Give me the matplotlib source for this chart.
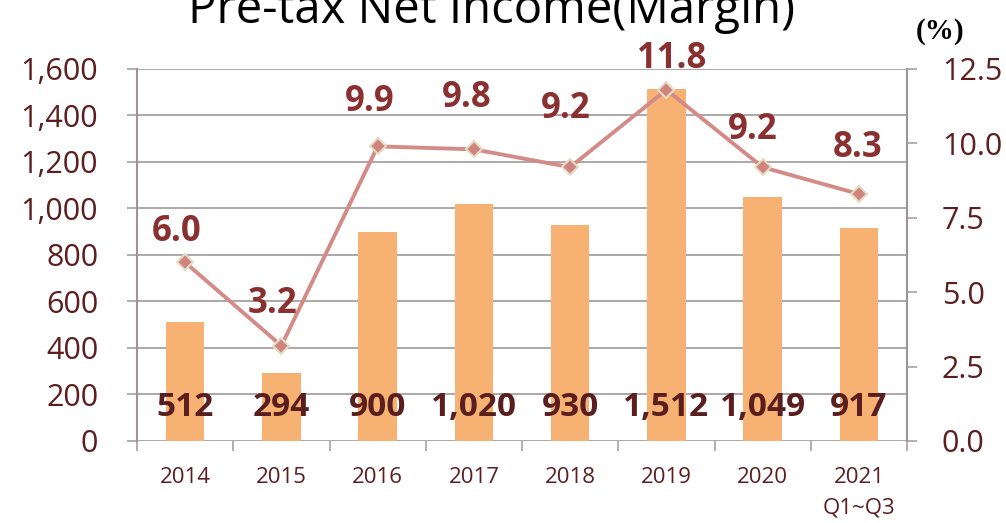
import matplotlib.pyplot as plt
import numpy as np

years = ['2014', '2015', '2016', '2017', '2018', '2019', '2020', '2021\nQ1~Q3']
income = [512, 294, 900, 1020, 930, 1512, 1049, 917]
margin = [6.0, 3.2, 9.9, 9.8, 9.2, 11.8, 9.2, 8.3]

# label offsets (points) for the margin labels, as placed in the original
lab_dx = [-6, -6, -6, -5, -3, 4, -7, -1]
lab_dy = [22, 30, 32, 37, 42, 22, 27, 33]

plt.rcParams['font.family'] = ['Open Sans', 'DejaVu Sans']
tick_col = '#5C1E1E'
grid_col = '#A8A0A0'

fig = plt.figure(figsize=(10.06, 5.23), dpi=100)
ax = fig.add_axes([0.1362, 0.1568, 0.7654, 0.7113])
x = np.arange(len(years))

ax.bar(x, income, width=0.4, color='#F7B172', zorder=2)
ax.set_xlim(-0.5, len(years) - 0.5)
ax.set_ylim(0, 1600)
ax.set_yticks(np.arange(0, 1601, 200))
ax.set_yticklabels([f'{v:,}' for v in range(0, 1601, 200)])
ax.grid(axis='y', color=grid_col, linewidth=1.3, zorder=0)
ax.set_axisbelow(True)

# category boundary ticks + centred labels
ax.set_xticks(np.arange(-0.5, len(years)), minor=False)
ax.set_xticklabels([])
ax.set_xticks(x, minor=True)
ax.set_xticklabels(years, minor=True, fontsize=16, color=tick_col, linespacing=1.55, va='top')
ax.tick_params(axis='x', which='major', length=7, color=grid_col, width=1.2)
ax.tick_params(axis='x', which='minor', length=0, pad=19)
ax.tick_params(axis='y', length=7, color=grid_col, width=1.2, labelsize=22, labelcolor=tick_col, pad=21)

for s in ['top', 'right', 'bottom']:
    ax.spines[s].set_visible(False)
ax.spines['left'].set_color('#9E9494')
ax.spines['left'].set_linewidth(1.5)

for xi, v in zip(x, income):
    ax.text(xi, 142, f'{v:,}', ha='center', va='center', fontsize=24,
            fontweight='bold', color='#5A1E1E', zorder=5)

ax2 = ax.twinx()
ax2.set_ylim(0, 12.5)
ax2.set_yticks(np.arange(0, 12.6, 2.5))
ax2.set_yticklabels([f'{v:.1f}' for v in np.arange(0, 12.6, 2.5)])
ax2.tick_params(axis='y', length=7, color=grid_col, width=1.2, labelsize=22, labelcolor=tick_col, pad=18)
for s in ['top', 'left', 'bottom']:
    ax2.spines[s].set_visible(False)
ax2.spines['right'].set_color('#9E9494')
ax2.spines['right'].set_linewidth(1.5)

ax2.plot(x, margin, color='#D48A86', linewidth=2.8, marker='D', markersize=8,
         markerfacecolor='#D0837F', markeredgecolor='#E3DDC2', markeredgewidth=1.5, zorder=3)
for xi, v, dx, dy in zip(x, margin, lab_dx, lab_dy):
    ax2.annotate(f'{v:.1f}', (xi, v), xytext=(dx, dy), textcoords='offset points',
                 ha='center', va='center', fontsize=25, fontweight='bold', color='#8B3030')

fig.text(0.489, 0.956, 'Pre-tax Net Income(Margin)', ha='center', va='baseline',
         fontsize=34, color='black')
fig.text(0.934, 0.94, '(%)', ha='center', va='center', fontsize=21, fontweight='bold',
         family='Liberation Serif', color='black')

fig.savefig('out.png', dpi=100)
